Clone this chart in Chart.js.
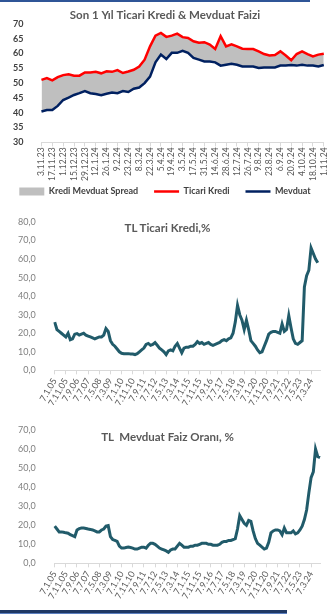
<!DOCTYPE html>
<html>
<head>
<meta charset="utf-8">
<script src="https://cdn.jsdelivr.net/npm/chart.js@4.4.1/dist/chart.umd.min.js"></script>
<style>
body { margin: 0; background: #fff; width: 335px; height: 615px; overflow: hidden; position: relative; font-family: Lato, sans-serif; }
canvas { position: absolute; left: 0; }
.baslik { position: absolute; left: 0; width: 335px; text-align: center; font-weight: bold; font-size: 11.5px; line-height: 14px; color: #595959; white-space: pre; }
#ust { position: absolute; left: 0; top: 0; width: 310px; height: 2px; background: #2f5597; }
#alt1 { position: absolute; left: 0; top: 610px; width: 287px; height: 3px; background: #1f3864; }
#alt2 { position: absolute; left: 0; top: 613px; width: 287px; height: 1px; background: #5b7fc0; }
</style>
</head>
<body>
<div id="ust"></div>
<canvas id="c1" width="335" height="200" style="top:0"></canvas>
<canvas id="c2" width="335" height="205" style="top:200px"></canvas>
<canvas id="c3" width="335" height="200" style="top:405px"></canvas>
<div class="baslik" style="top:221px">TL Ticari Kredi,%</div>
<div class="baslik" style="top:430px">TL  Mevduat Faiz Oranı, %</div>
<div id="alt1"></div>
<div id="alt2"></div>
<script>
Chart.defaults.font.family = "Lato";

// son 1 yil, haftalik
const haftalar = [
    "3.11.23", "10.11.23", "17.11.23", "24.11.23", "1.12.23", "8.12.23", "15.12.23", "22.12.23", "29.12.23",
    "5.1.24", "12.1.24", "19.1.24", "26.1.24", "2.2.24", "9.2.24", "16.2.24", "23.2.24",
    "1.3.24", "8.3.24", "15.3.24", "22.3.24", "29.3.24", "5.4.24", "12.4.24", "19.4.24", "26.4.24",
    "3.5.24", "10.5.24", "17.5.24", "24.5.24", "31.5.24", "7.6.24", "14.6.24", "21.6.24", "28.6.24",
    "5.7.24", "12.7.24", "19.7.24", "26.7.24", "2.8.24", "9.8.24", "16.8.24", "23.8.24", "30.8.24",
    "6.9.24", "13.9.24", "20.9.24", "27.9.24", "4.10.24", "11.10.24", "18.10.24", "25.10.24", "1.11.24"
];
const ticariKredi = [
    51.1, 51.7, 50.9, 52.0, 52.7, 53.0, 52.5, 52.5, 53.6, 53.6,
    53.8, 53.3, 54.0, 53.8, 54.4, 53.4, 53.9, 54.5, 55.6, 57.9,
    62.4, 66.0, 66.9, 65.6, 66.0, 66.7, 65.5, 65.2, 64.1, 63.6,
    63.8, 63.0, 61.5, 65.8, 62.4, 63.1, 62.4, 61.6, 61.5, 61.5,
    60.7, 59.8, 59.3, 59.5, 60.7, 59.3, 57.7, 59.8, 60.7, 59.8,
    59.0, 59.6, 59.9
];
const mevduat = [
    40.4, 40.9, 40.9, 42.3, 44.3, 45.1, 46.0, 46.6, 47.3, 46.6,
    46.3, 45.9, 46.4, 46.8, 46.6, 47.3, 47.0, 48.1, 48.5, 50.0,
    52.2, 57.0, 59.6, 58.1, 60.2, 60.2, 60.9, 60.2, 58.5, 57.9,
    57.3, 57.3, 57.0, 55.9, 56.2, 56.5, 56.2, 55.6, 55.6, 55.6,
    55.1, 55.3, 55.3, 55.3, 55.9, 55.9, 56.1, 55.9, 56.2, 55.9,
    55.9, 55.6, 56.1
];

// 2005'ten beri, iki ayda bir
const tarihler = [
    "7.1.05", "7.3.05", "7.5.05", "7.7.05", "7.9.05", "7.11.05",
    "7.1.06", "7.3.06", "7.5.06", "7.7.06", "7.9.06", "7.11.06",
    "7.1.07", "7.3.07", "7.5.07", "7.7.07", "7.9.07", "7.11.07",
    "7.1.08", "7.3.08", "7.5.08", "7.7.08", "7.9.08", "7.11.08",
    "7.1.09", "7.3.09", "7.5.09", "7.7.09", "7.9.09", "7.11.09",
    "7.1.10", "7.3.10", "7.5.10", "7.7.10", "7.9.10", "7.11.10",
    "7.1.11", "7.3.11", "7.5.11", "7.7.11", "7.9.11", "7.11.11",
    "7.1.12", "7.3.12", "7.5.12", "7.7.12", "7.9.12", "7.11.12",
    "7.1.13", "7.3.13", "7.5.13", "7.7.13", "7.9.13", "7.11.13",
    "7.1.14", "7.3.14", "7.5.14", "7.7.14", "7.9.14", "7.11.14",
    "7.1.15", "7.3.15", "7.5.15", "7.7.15", "7.9.15", "7.11.15",
    "7.1.16", "7.3.16", "7.5.16", "7.7.16", "7.9.16", "7.11.16",
    "7.1.17", "7.3.17", "7.5.17", "7.7.17", "7.9.17", "7.11.17",
    "7.1.18", "7.3.18", "7.5.18", "7.7.18", "7.9.18", "7.11.18",
    "7.1.19", "7.3.19", "7.5.19", "7.7.19", "7.9.19", "7.11.19",
    "7.1.20", "7.3.20", "7.5.20", "7.7.20", "7.9.20", "7.11.20",
    "7.1.21", "7.3.21", "7.5.21", "7.7.21", "7.9.21", "7.11.21",
    "7.1.22", "7.3.22", "7.5.22", "7.7.22", "7.9.22", "7.11.22",
    "7.1.23", "7.3.23", "7.5.23", "7.7.23", "7.9.23", "7.11.23",
    "7.1.24", "7.3.24", "7.5.24", "7.7.24", "7.9.24", "7.11.24"
];
const tlTicariKredi = [
    26, 22, 21, 20, 19, 18, 20, 16.5, 17, 19.5,
    19.8, 19, 19.5, 20, 19, 18.5, 18, 17.5, 17, 17.5,
    18, 18, 19, 22.5, 21, 16, 14, 13, 11.5, 10,
    9.2, 9, 9, 9, 8.8, 8.8, 8.5, 9, 10, 11,
    12, 14, 14.5, 13.5, 14, 15, 13.5, 12, 11, 10,
    8.5, 10.5, 11, 10.5, 13, 14.5, 12, 9.5, 12, 12.5,
    12.5, 13, 13, 14, 15.5, 14.5, 15, 14, 14.5, 15,
    14, 13.5, 14, 14.5, 15, 16, 16.5, 16, 17, 17.5,
    20, 26, 35, 30, 27, 22, 27, 22, 16, 14.5,
    13, 11, 9.5, 10, 13, 16, 19.5, 20.5, 21, 21,
    20.5, 20, 25, 21, 22, 29.5, 23, 17, 14.5, 14,
    15, 16, 45, 51, 54, 66, 63, 60, 58
];
const tlMevduat = [
    19.5, 18, 16.5, 16.5, 16.3, 16, 15.8, 15, 14.5, 14,
    17.5, 18.2, 18.5, 18.5, 18.3, 18, 17.8, 17.5, 17, 16.5,
    16.5, 17.5, 18, 19.5, 19.8, 14, 12.5, 12, 11.5, 9,
    8, 8, 8.3, 8.5, 8.3, 8, 7.5, 7.5, 8, 8.5,
    8.5, 8, 9.5, 10.5, 10.5, 10, 9, 8, 7.5, 7,
    6.5, 5.8, 7, 7.5, 7.5, 9, 10.5, 9.5, 8.5, 8.5,
    8.5, 9, 9, 9.5, 9.5, 10, 10.5, 10.5, 10.5, 10,
    10, 9.5, 9.5, 9.5, 10, 11, 11.5, 11.5, 12, 12,
    12.5, 13, 18, 25, 23, 21, 20, 22.5, 22, 17,
    13, 10.5, 9.5, 8.5, 7.5, 8, 11, 16, 17, 17.5,
    17.5, 17, 15, 18.5, 16, 16, 16, 17, 15.5, 16,
    17.5, 19.5, 23, 28, 37, 45, 48, 60, 56, 55.5
];

const virgul = v => v.toFixed(1).replace(".", ",");

new Chart(document.getElementById("c1"), {
    type: "line",
    data: {
        labels: haftalar,
        datasets: [{
            label: "Kredi Mevduat Spread",
            data: ticariKredi,
            fill: 2,
            backgroundColor: "#bfbfbf",
            borderColor: "#bfbfbf",
            borderWidth: 0,
            pointRadius: 0,
            pointStyle: "rect"
        }, {
            label: "Ticari Kredi",
            data: ticariKredi,
            borderColor: "#ff0000",
            borderWidth: 2.5,
            pointRadius: 0,
            pointStyle: "line",
            fill: false
        }, {
            label: "Mevduat",
            data: mevduat,
            borderColor: "#002060",
            borderWidth: 2.5,
            pointRadius: 0,
            pointStyle: "line",
            fill: false
        }]
    },
    options: {
        responsive: false,
        animation: false,
        devicePixelRatio: 1,
        layout: { padding: { left: 3, right: 8, top: 0, bottom: -6 } },
        plugins: {
            filler: { drawTime: "beforeDatasetsDraw" },
            tooltip: { enabled: false },
            title: {
                display: true,
                text: "Son 1 Yıl Ticari Kredi & Mevduat Faizi",
                color: "#595959",
                font: { size: 11.5, weight: "bold" },
                padding: { top: 8, bottom: 2 }
            },
            legend: {
                position: "bottom",
                labels: {
                    usePointStyle: true,
                    pointStyleWidth: 25,
                    boxHeight: 8,
                    padding: 5,
                    color: "#404040",
                    font: { size: 9, weight: "bold" },
                    generateLabels: ch => Chart.defaults.plugins.legend.labels.generateLabels(ch).map((l, i) => {
                        if (i < 2) l.text += "\u00a0\u00a0\u00a0\u00a0\u00a0";
                        return l;
                    })
                }
            }
        },
        scales: {
            x: {
                grid: {
                    drawOnChartArea: false,
                    tickLength: 4,
                    color: c => c.index % 2 ? "rgba(0,0,0,0)" : "#d9d9d9"
                },
                border: { color: "#d9d9d9" },
                ticks: {
                    autoSkip: false,
                    minRotation: 90,
                    maxRotation: 90,
                    padding: 1,
                    color: "#595959",
                    font: { size: 8.5 },
                    callback: (v, i) => i % 2 ? "" : haftalar[i]
                }
            },
            y: {
                min: 30,
                max: 70,
                ticks: { stepSize: 5, autoSkip: false, padding: 10, color: "#404040", font: { size: 9, weight: "bold" } },
                grid: { display: false },
                border: { display: false }
            }
        }
    }
});

function uzunSeri(id, veri, ymax, pad) {
    new Chart(document.getElementById(id), {
        type: "line",
        data: {
            labels: tarihler,
            datasets: [{
                data: veri,
                borderColor: "#215b6a",
                borderWidth: 3,
                pointRadius: 0,
                fill: false
            }]
        },
        options: {
            responsive: false,
            animation: false,
            devicePixelRatio: 1,
            layout: { padding: pad },
            plugins: { legend: { display: false }, tooltip: { enabled: false } },
            scales: {
                x: {
                    grid: {
                        drawOnChartArea: false,
                        tickLength: 4,
                        color: c => c.index % 5 ? "rgba(0,0,0,0)" : "#d9d9d9"
                    },
                    border: { color: "#d9d9d9" },
                    ticks: {
                        autoSkip: false,
                        minRotation: 60,
                        maxRotation: 60,
                        padding: 2,
                        color: "#595959",
                        font: { size: 9 },
                        callback: (v, i) => i % 5 ? "" : tarihler[i]
                    }
                },
                y: {
                    min: 0,
                    max: ymax,
                    ticks: { stepSize: 10, autoSkip: false, padding: 11, color: "#7f7f7f", font: { size: 9 }, callback: v => virgul(v) },
                    grid: { display: false },
                    border: { display: false }
                }
            }
        }
    });
}

uzunSeri("c2", tlTicariKredi, 80, { left: 7, right: 15, top: 22, bottom: -5 });
uzunSeri("c3", tlMevduat, 70, { left: 7, right: 15, top: 25, bottom: 2 });
</script>
</body>
</html>
